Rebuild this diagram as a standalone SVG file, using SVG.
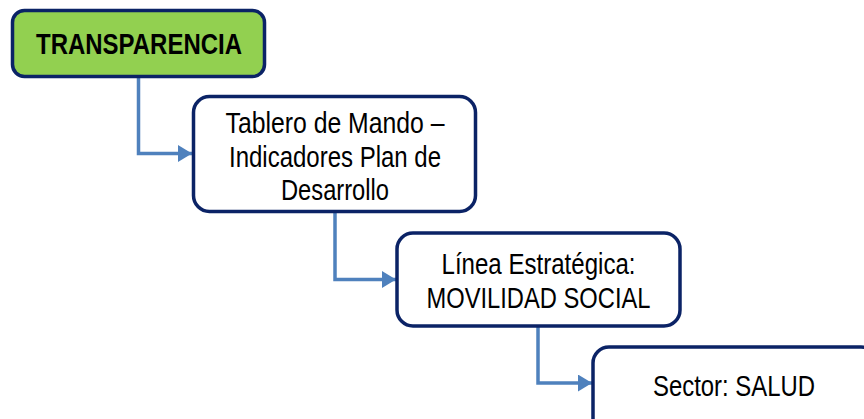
<svg xmlns="http://www.w3.org/2000/svg" width="864" height="419" viewBox="0 0 864 419">
<style>
.box{fill:#ffffff;stroke:#0b2366;stroke-width:3.5}
.green{fill:#92d050}
.t{font-family:"Liberation Sans Narrow","Arial Narrow","Liberation Sans",sans-serif;font-size:30px;fill:#000;text-anchor:middle}
.b{font-weight:bold;font-size:29px}
.c{fill:none;stroke:#4f81bd;stroke-width:3.5}
</style>
<defs>
<marker id="ah" markerUnits="userSpaceOnUse" markerWidth="16" markerHeight="17" refX="14" refY="8.5" orient="auto">
<path d="M0,0 L14,8.5 L0,17 Z" fill="#4f81bd"/>
</marker>
</defs>
<rect width="864" height="419" fill="#ffffff"/>
<g id="connectors">
<path class="c" d="M138.5,77 V153.5 H192" marker-end="url(#ah)"/>
<path class="c" d="M335,212 V279.5 H396" marker-end="url(#ah)"/>
<path class="c" d="M538,326 V383 H592" marker-end="url(#ah)"/>
</g>
<g id="transparencia">
<rect class="box green" x="12.5" y="10.5" width="252" height="66" rx="12"/>
<text class="t b" x="139" y="54" textLength="206" lengthAdjust="spacingAndGlyphs">TRANSPARENCIA</text>
</g>
<g id="tablero">
<rect class="box" x="193.5" y="96.5" width="282" height="115" rx="16"/>
<text class="t" x="335" y="132.5" textLength="219" lengthAdjust="spacingAndGlyphs">Tablero de Mando –</text>
<text class="t" x="335" y="166.5" textLength="212" lengthAdjust="spacingAndGlyphs">Indicadores Plan de</text>
<text class="t" x="335" y="199.5" textLength="108" lengthAdjust="spacingAndGlyphs">Desarrollo</text>
</g>
<g id="linea">
<rect class="box" x="397" y="233" width="283" height="93" rx="16"/>
<text class="t" x="538.5" y="273.5" textLength="194" lengthAdjust="spacingAndGlyphs">Línea Estratégica:</text>
<text class="t" x="538.5" y="307.5" textLength="224" lengthAdjust="spacingAndGlyphs">MOVILIDAD SOCIAL</text>
</g>
<g id="sector">
<rect class="box" x="593" y="347" width="284" height="90" rx="16"/>
<text class="t" x="734" y="395.5" textLength="162" lengthAdjust="spacingAndGlyphs">Sector: SALUD</text>
</g>
</svg>
